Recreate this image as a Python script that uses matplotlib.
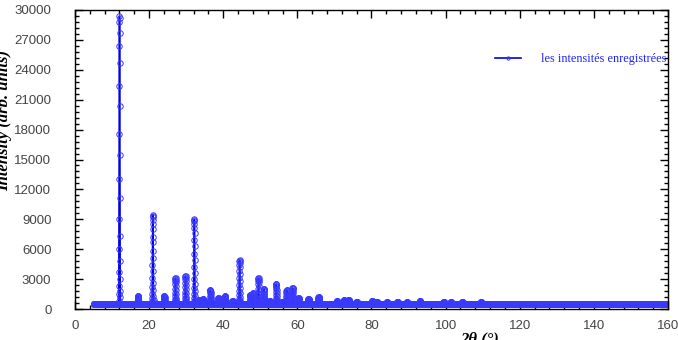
import numpy as np
import matplotlib
matplotlib.use("Agg")
import matplotlib.pyplot as plt
from matplotlib.ticker import MultipleLocator

## Data ##
two_theta_start, two_theta_stop, two_theta_step = 5.0, 160.0, 0.02
baseline = 550

# peak position (deg) and top intensity
peak_pos = [12.0, 17.0, 21.0, 24.1, 27.1, 29.8, 32.2, 33.5, 34.6, 36.5,
            38.7, 40.5, 42.5, 44.4, 47.3, 48.0, 49.5, 51.0, 52.5, 54.3,
            55.8, 57.1, 58.7, 60.3, 63.0, 65.7, 70.7, 72.5, 73.8, 76.0,
            80.2, 81.5, 84.2, 87.0, 89.6, 93.1, 99.5, 101.4, 104.5, 109.5]
peak_top = [29400, 1300, 9450, 1300, 3100, 3300, 9000, 900, 1000, 1900,
            1100, 1300, 800, 4900, 1400, 1600, 3100, 2000, 800, 2500,
            700, 1900, 2100, 1100, 1000, 1200, 850, 900, 950, 750,
            850, 750, 700, 700, 700, 850, 750, 750, 700, 750]

# point levels seen on the main peak, as fraction of its height above baseline
peak_levels = [1.0, 0.992, 0.980, 0.942, 0.896, 0.836, 0.755, 0.688, 0.590,
               0.516, 0.432, 0.368, 0.293, 0.235, 0.189, 0.148, 0.110, 0.087,
               0.062, 0.044, 0.033, 0.021, 0.010]

## Build the pattern ##
lv = np.array(peak_levels)
profile = np.concatenate([lv[2::2][::-1], lv[:1], lv[1::2]])
half = len(profile) // 2

two_theta = np.round(np.arange(two_theta_start, two_theta_stop + 1e-9, two_theta_step), 2)
intensity = np.full(two_theta.shape, float(baseline))
for pos, top in zip(peak_pos, peak_top):
    i = int(np.argmin(np.abs(two_theta - pos)))
    seg = baseline + (top - baseline) * profile
    sl = slice(i - half, i + half + 1)
    intensity[sl] = np.maximum(intensity[sl], seg)

## Plot ##
fig = plt.figure(figsize=(6.78, 3.40), dpi=100)
ax = fig.add_axes([75 / 678, 1 - 309 / 340, 593 / 678, 299 / 340])

ax.plot(two_theta, intensity, color="#0000e6", lw=1.2,
        marker="o", ms=3.9, mfc="none", mec="#3a3aff", mew=0.7,
        label="les intensités enregistrées")

ax.set_xlim(0, 160)
ax.set_ylim(0, 30000)
ax.xaxis.set_major_locator(MultipleLocator(20))
ax.xaxis.set_minor_locator(MultipleLocator(4))
ax.yaxis.set_major_locator(MultipleLocator(3000))
ax.yaxis.set_minor_locator(MultipleLocator(600))

ax.tick_params(which="both", direction="in", top=True, right=True,
               colors="black", labelcolor="#444444", width=1)
ax.tick_params(which="major", length=6)
ax.tick_params(which="minor", length=3)
ax.tick_params(axis="y", pad=17)
ax.tick_params(axis="x", pad=8)
for lab in ax.get_xticklabels() + ax.get_yticklabels():
    lab.set_fontfamily("Liberation Sans")
    lab.set_fontsize(9.5)
for sp in ax.spines.values():
    sp.set_linewidth(1.0)

leg = ax.legend(loc="center left", bbox_to_anchor=(0.708, 0.835), frameon=False,
                handlelength=2.1, handletextpad=1.7, borderpad=0, borderaxespad=0,
                markerscale=0.6, prop={"family": "Liberation Serif", "size": 8.8})
for t in leg.get_texts():
    t.set_color("#2020ff")

fig.text(4 / 678, 1 - 120 / 340, "Intensity (arb. units)", rotation=90,
         ha="center", va="center", fontsize=12, fontweight="bold",
         fontstyle="italic", family="Liberation Serif")
fig.text(480 / 678, 1 - 331 / 340, "2θ (°)", ha="center", va="top",
         fontsize=12, fontweight="bold", fontstyle="italic",
         family="Liberation Serif")

fig.savefig("out.png", dpi=100)
